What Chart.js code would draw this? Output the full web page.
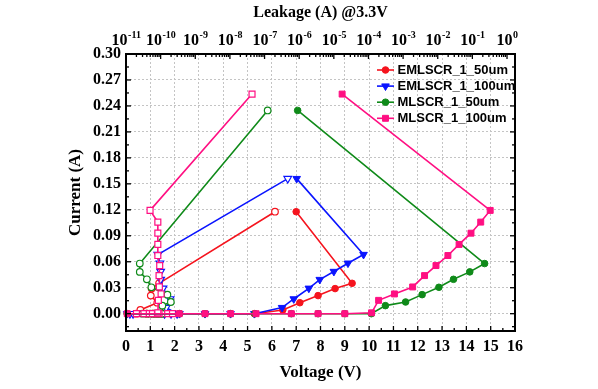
<!DOCTYPE html>
<html>
<head>
<meta charset="utf-8">
<script src="https://cdn.jsdelivr.net/npm/chart.js@4/dist/chart.umd.min.js"></script>
<style>html,body{margin:0;padding:0;background:#fff}</style>
</head>
<body>
<canvas id="c" width="598" height="389"></canvas>
<script>
// TLP I-V (filled marks) and leakage @3.3V after each pulse (open marks)
// EMLSCR_1_50um
const eml50V = [0.05, 2.2, 3.25, 4.3, 5.28, 6.45, 7.15, 7.9, 8.6, 9.3, 7.0];
const eml50I = [0, 0, 0, 0, 0, 0.0043, 0.0127, 0.0209, 0.029, 0.0351, 0.1178];
const eml50L = [2.0e-11, 4.0e-11, 6.0e-11, 8.0e-11, 1.2e-10, 2.6e-11, 8.0e-11, 5.2e-11, 5.5e-11, 9.0e-11, 2.0e-7];
// EMLSCR_1_100um
const eml100V = [0.05, 2.2, 3.25, 4.3, 5.28, 6.42, 6.9, 7.52, 7.97, 8.55, 9.13, 9.77, 7.02];
const eml100I = [0, 0, 0, 0, 0, 0.007, 0.017, 0.0293, 0.0394, 0.0487, 0.0583, 0.0683, 0.156];
const eml100L = [1.3e-11, 1.6e-11, 1.3e-10, 2.0e-10, 3.0e-10, 1.44e-10, 1.88e-10, 1.17e-10, 1.0e-10, 1.0e-10, 9.5e-11, 8.3e-11, 4.67e-7];
// MLSCR_1_50um
const ml50V = [0.05, 2.2, 3.25, 4.3, 5.3, 6.8, 7.9, 9.0, 10.09, 10.67, 11.5, 12.18, 12.87, 13.47, 14.14, 14.75, 7.06];
const ml50I = [0, 0, 0, 0, 0, 0, 0, 0, 0, 0.0093, 0.0135, 0.022, 0.0305, 0.0397, 0.0483, 0.0579, 0.2348];
const ml50L = [3e-11, 4e-11, 5e-11, 6e-11, 7e-11, 8e-11, 9e-11, 1.0e-10, 1.1e-10, 1.12e-10, 1.97e-10, 1.57e-10, 5.4e-11, 4.0e-11, 2.5e-11, 2.5e-11, 1.23e-7];
// MLSCR_1_100um
const ml100V = [0.05, 2.19, 3.25, 4.3, 5.35, 6.8, 7.9, 9.0, 10.1, 10.39, 11.04, 11.79, 12.28, 12.75, 13.24, 13.7, 14.19, 14.59, 14.98, 8.89];
const ml100I = [0, 0, 0, 0, 0, 0, 0, 0, 0.001, 0.0154, 0.0228, 0.0309, 0.044, 0.0556, 0.0672, 0.08, 0.093, 0.1058, 0.1193, 0.2537];
const ml100L = [2.0e-11, 3.3e-11, 4.7e-11, 5.8e-11, 8.1e-11, 1.6e-10, 2.2e-10, 9.0e-11, 8.3e-11, 8.6e-11, 1.03e-10, 9.2e-11, 9.0e-11, 9.4e-11, 8.3e-11, 8.3e-11, 8.3e-11, 8.3e-11, 4.95e-11, 4.35e-8];

const currentTicks = [0, 0.03, 0.06, 0.09, 0.12, 0.15, 0.18, 0.21, 0.24, 0.27, 0.30];
const leakDecades = [-11, -10, -9, -8, -7, -6, -5, -4, -3, -2, -1, 0];

const serif = "'Liberation Serif', 'Times New Roman', serif";
const sans = "'Liberation Sans', Arial, sans-serif";

const series = [
  { name: 'EMLSCR_1_50um', color: '#f5141e', style: 'circle', r: 3.3, rot: 0, V: eml50V, I: eml50I, L: eml50L, order: 3 },
  { name: 'EMLSCR_1_100um', color: '#0a14ff', style: 'triangle', r: 4.4, rot: 180, V: eml100V, I: eml100I, L: eml100L, order: 2 },
  { name: 'MLSCR_1_50um', color: '#0f8a19', style: 'circle', r: 3.3, rot: 0, V: ml50V, I: ml50I, L: ml50L, order: 1 },
  { name: 'MLSCR_1_100um', color: '#ff0f82', style: 'rect', r: 4.2, rot: 0, V: ml100V, I: ml100I, L: ml100L, order: 0 }
];

const datasets = [];
series.forEach(s => {
  datasets.push({
    label: s.name,
    data: s.V.map((v, i) => ({ x: v, y: s.I[i] })),
    xAxisID: 'x', yAxisID: 'y',
    showLine: true, borderColor: s.color, backgroundColor: s.color, borderWidth: 1.6,
    pointStyle: s.style, pointRadius: s.r, pointRotation: s.rot,
    pointBackgroundColor: s.color, pointBorderColor: s.color, pointBorderWidth: 1,
    order: s.order, clip: false
  });
  datasets.push({
    label: s.name + ' leakage',
    data: s.L.map((l, i) => ({ x: l, y: s.I[i] })),
    xAxisID: 'x2', yAxisID: 'y',
    showLine: true, borderColor: s.color, backgroundColor: '#fff', borderWidth: 1.6,
    pointStyle: s.style, pointRadius: s.r, pointRotation: s.rot,
    pointBackgroundColor: '#fff', pointBorderColor: s.color, pointBorderWidth: 1.2,
    order: s.order + 4, clip: false
  });
});

// frame, inward ticks, top superscript labels and inside legend
const framePlugin = {
  id: 'frame',
  afterDatasetsDraw(chart) {
    const { ctx, chartArea: a, scales } = chart;
    const line = (x1, y1, x2, y2) => { ctx.beginPath(); ctx.moveTo(x1, y1); ctx.lineTo(x2, y2); ctx.stroke(); };
    ctx.save();
    ctx.strokeStyle = '#000';
    ctx.lineWidth = 1.3;
    for (let k = 0; k <= 32; k++) {
      const x = scales.x.getPixelForValue(k / 2);
      line(x, a.bottom, x, a.bottom - (k % 2 ? 3 : 5));
    }
    for (let k = -1; k <= 20; k++) {
      const y = scales.y.getPixelForValue(k * 0.015);
      const len = k % 2 ? 3 : 5;
      line(a.left, y, a.left + len, y);
      line(a.right, y, a.right - len, y);
    }
    const x2 = scales.x2;
    leakDecades.forEach(d => {
      for (let m = 1; m < 10; m++) {
        const v = m * Math.pow(10, d);
        if (v > x2.max) break;
        const x = x2.getPixelForValue(v);
        line(x, a.top, x, a.top + (m === 1 ? 5 : 3));
      }
    });
    ctx.lineWidth = 2;
    ctx.strokeRect(a.left, a.top, a.right - a.left, a.bottom - a.top);

    // top axis labels 10^n
    ctx.fillStyle = '#000';
    ctx.textBaseline = 'alphabetic';
    ctx.textAlign = 'left';
    const baseFont = 'bold 16px ' + serif, expFont = 'bold 10px ' + serif;
    leakDecades.forEach(d => {
      const x = x2.getPixelForValue(Math.pow(10, d));
      const exp = String(d);
      ctx.font = baseFont; const wb = ctx.measureText('10').width;
      ctx.font = expFont; const we = ctx.measureText(exp).width;
      const x0 = x - (wb + we) / 2;
      ctx.font = baseFont; ctx.fillText('10', x0, 45);
      ctx.font = expFont; ctx.fillText(exp, x0 + wb + 0.5, 38);
    });

    // legend
    ctx.font = 'bold 13px ' + sans;
    ctx.textBaseline = 'middle';
    series.forEach((s, i) => {
      const y = 70 + i * 16.1;
      ctx.strokeStyle = s.color; ctx.lineWidth = 1.6;
      line(377, y, 394, y);
      ctx.fillStyle = s.color; ctx.strokeStyle = s.color; ctx.lineWidth = 1;
      Chart.helpers.drawPoint(ctx, { pointStyle: s.style, radius: s.r, rotation: s.rot, borderWidth: 1 }, 385.5, y);
      ctx.fillStyle = '#000';
      ctx.fillText(s.name, 397.5, y + 0.5);
    });
    ctx.restore();
  }
};

const gridStyle = { color: '#c4c4c4', lineWidth: 1, drawTicks: false };
const borderStyle = { display: false, dash: [2, 2] };

new Chart(document.getElementById('c'), {
  type: 'scatter',
  data: { datasets },
  options: {
    responsive: false, animation: false, devicePixelRatio: 1,
    layout: { padding: { left: 64, right: 83, top: 3, bottom: 6 } },
    plugins: { legend: { display: false }, tooltip: { enabled: false } },
    scales: {
      x: {
        type: 'linear', position: 'bottom', min: 0, max: 16,
        ticks: { stepSize: 1, padding: 6, color: '#000', font: { family: serif, size: 16, weight: 'bold' } },
        grid: gridStyle, border: borderStyle,
        title: { display: true, text: 'Voltage (V)', color: '#000', padding: { top: 0, bottom: 0 }, font: { family: serif, size: 17, weight: 'bold' } },
        afterFit: s => { s.height = 52; }
      },
      x2: {
        type: 'logarithmic', position: 'top', min: 1e-11, max: 1.7,
        ticks: { display: false },
        grid: { display: false, drawTicks: false }, border: { display: false },
        title: { display: true, text: 'Leakage (A) @3.3V', color: '#000', padding: { top: 0, bottom: 0 }, font: { family: serif, size: 16, weight: 'bold' } },
        afterFit: s => { s.height = 51; }
      },
      y: {
        type: 'linear', position: 'left', min: -0.02, max: 0.30,
        afterBuildTicks: s => { s.ticks = currentTicks.map(v => ({ value: v })); },
        ticks: { padding: 5, color: '#000', font: { family: serif, size: 16, weight: 'bold' }, callback: v => v.toFixed(2) },
        grid: gridStyle, border: borderStyle,
        title: { display: true, text: 'Current (A)', color: '#000', padding: { top: 1, bottom: 0 }, font: { family: serif, size: 17, weight: 'bold' } },
        afterFit: s => { s.width = 62; }
      }
    }
  },
  plugins: [framePlugin]
});
</script>
</body>
</html>
